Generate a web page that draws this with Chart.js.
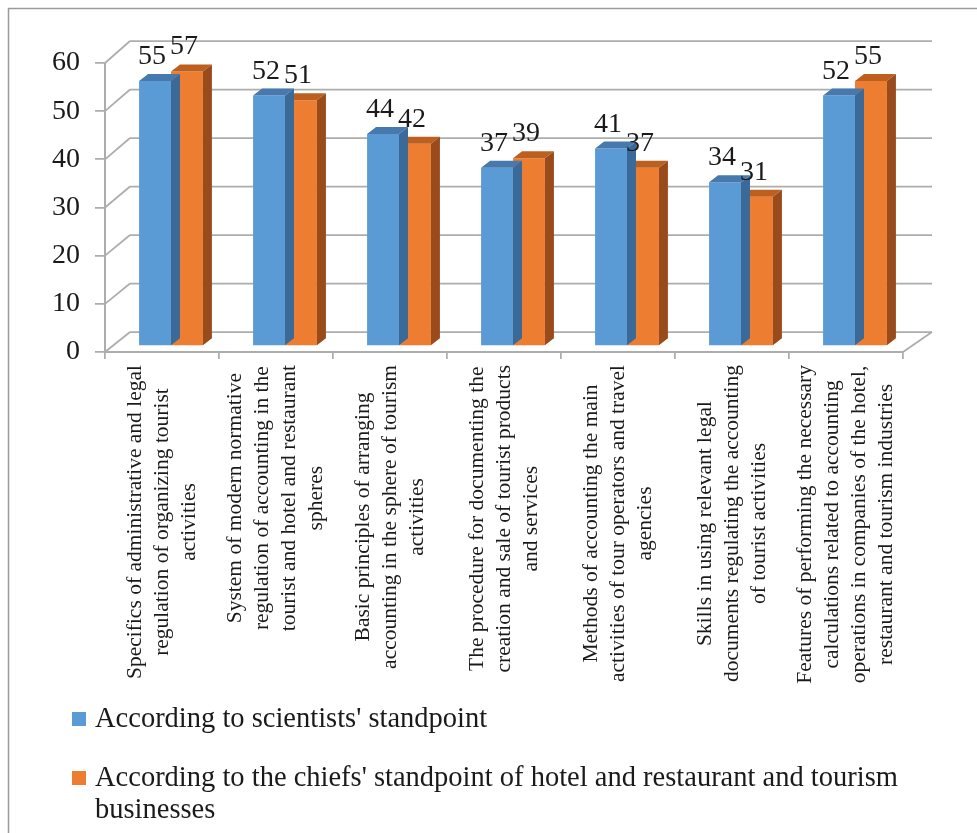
<!DOCTYPE html>
<html><head><meta charset="utf-8">
<script src="https://cdn.jsdelivr.net/npm/chart.js@4.4.1/dist/chart.umd.min.js"></script>
<style>html,body{margin:0;padding:0;background:#fff;}#wrap{width:977px;height:833px;position:relative;}</style>
</head><body><div id="wrap"><canvas id="c" width="977" height="833"></canvas></div>
<script>
const categories = [
  ["Specifics of administrative and legal", "regulation of organizing tourist", "activities"],
  ["System of modern normative", "regulation of accounting in the", "tourist and hotel and restaurant", "spheres"],
  ["Basic principles of arranging", "accounting in the sphere of tourism", "activities"],
  ["The procedure for documenting the", "creation and sale of tourist products", "and services"],
  ["Methods of accounting the main", "activities of tour operators and travel", "agencies"],
  ["Skills in using relevant legal", "documents regulating the accounting", "of tourist activities"],
  ["Features of performing the necessary", "calculations related to accounting", "operations in companies of the hotel,", "restaurant and tourism industries"]
];
const seriesNames = [
  "According to scientists' standpoint",
  "According to the chiefs' standpoint of hotel and restaurant and tourism businesses"
];
const scientists = [55, 52, 44, 37, 41, 34, 52];
const chiefs = [57, 51, 42, 39, 37, 31, 55];
const yTicks = [0, 10, 20, 30, 40, 50, 60];

const FONT = "'Liberation Serif','Times New Roman',serif";
const FRONT = ['#5B9BD5', '#ED7D31'];
const TOP = ['#4679AD', '#BD601F'];
const SIDE = ['#3B6A98', '#9A4B1B'];
const GRID = '#adadad';
const SHIFT = {x: 9, y: -6};
const BD = {dx: 9, dy: -7};

const threeD = {
  id: 'threeD',
  beforeDatasetsDraw(chart) {
    const ctx = chart.ctx, y = chart.scales.y, a = chart.chartArea;
    const bl = a.left + 25, br = a.right + 29;
    ctx.save();
    ctx.strokeStyle = GRID; ctx.lineWidth = 1.75;
    yTicks.forEach(v => {
      const fy = y.getPixelForValue(v);
      const by = fy - (20 + 2 * v / 60);
      ctx.beginPath(); ctx.moveTo(bl, by); ctx.lineTo(br, by); ctx.stroke();
      ctx.beginPath(); ctx.moveTo(a.left, fy); ctx.lineTo(bl, by); ctx.stroke();
    });
    const f0 = y.getPixelForValue(0);
    ctx.beginPath(); ctx.moveTo(a.right, f0); ctx.lineTo(br, f0 - 20); ctx.stroke();
    ctx.restore();
    ctx.save();
    ctx.translate(SHIFT.x, SHIFT.y);
  },
  afterDatasetDraw(chart, args) {
    const ctx = chart.ctx, i = args.index;
    args.meta.data.forEach(el => {
      const p = el.getProps(['x', 'y', 'base', 'width'], true);
      const l = p.x - p.width / 2, r = p.x + p.width / 2, t = p.y, b = p.base;
      ctx.fillStyle = TOP[i];
      ctx.beginPath(); ctx.moveTo(l, t); ctx.lineTo(r, t); ctx.lineTo(r + BD.dx, t + BD.dy); ctx.lineTo(l + BD.dx, t + BD.dy); ctx.closePath(); ctx.fill();
      ctx.fillStyle = SIDE[i];
      ctx.beginPath(); ctx.moveTo(r, t); ctx.lineTo(r + BD.dx, t + BD.dy); ctx.lineTo(r + BD.dx, b + BD.dy); ctx.lineTo(r, b); ctx.closePath(); ctx.fill();
    });
  },
  afterDatasetsDraw(chart) {
    const ctx = chart.ctx;
    ctx.restore();
    ctx.save();
    ctx.fillStyle = '#1a1a1a';
    ctx.font = '28px ' + FONT;
    ctx.textAlign = 'center'; ctx.textBaseline = 'alphabetic';
    chart.data.datasets.forEach((ds, di) => {
      chart.getDatasetMeta(di).data.forEach((el, k) => {
        const p = el.getProps(['x', 'y'], true);
        ctx.fillText(String(ds.data[k]), p.x + SHIFT.x - 3, p.y + SHIFT.y - 17);
      });
    });
    ctx.restore();
  },
  afterDraw(chart) {
    const ctx = chart.ctx, x = chart.scales.x;
    ctx.save();
    ctx.fillStyle = '#1a1a1a';
    ctx.font = '21.5px ' + FONT;
    ctx.textAlign = 'center'; ctx.textBaseline = 'middle';
    const lh = 27, topY = 365;
    categories.forEach((lines, i) => {
      const cx = x.getPixelForValue(i);
      const maxW = Math.max(...lines.map(s => ctx.measureText(s).width));
      const cy = topY + maxW / 2;
      lines.forEach((s, k) => {
        const lx = cx + (k - (lines.length - 1) / 2) * lh;
        ctx.save(); ctx.translate(lx, cy); ctx.rotate(-Math.PI / 2);
        ctx.fillText(s, 0, 0); ctx.restore();
      });
    });
    ctx.font = '28.5px ' + FONT;
    ctx.textAlign = 'left'; ctx.textBaseline = 'alphabetic';
    const tx = 95, maxW = 977 - tx - 12;
    const starts = [727, 786];
    chart.data.datasets.forEach((ds, di) => {
      ctx.fillStyle = FRONT[di];
      ctx.fillRect(72, starts[di] - 15, 14, 14);
      ctx.fillStyle = '#1a1a1a';
      const words = ds.label.split(' ');
      let line = '', yy = starts[di];
      words.forEach(w => {
        const test = line ? line + ' ' + w : w;
        if (ctx.measureText(test).width > maxW && line) {
          ctx.fillText(line, tx, yy); yy += 32; line = w;
        } else line = test;
      });
      ctx.fillText(line, tx, yy);
    });
    ctx.strokeStyle = '#9a9a9a'; ctx.lineWidth = 1.5;
    ctx.beginPath(); ctx.moveTo(8.5, 833); ctx.lineTo(8.5, 8.5); ctx.lineTo(977, 8.5); ctx.stroke();
    ctx.restore();
  }
};

new Chart(document.getElementById('c'), {
  type: 'bar',
  data: {
    labels: categories.map(l => l.join(' ')),
    datasets: [
      {label: seriesNames[0], data: scientists, backgroundColor: FRONT[0], borderWidth: 0, clip: false},
      {label: seriesNames[1], data: chiefs, backgroundColor: FRONT[1], borderWidth: 0, clip: false}
    ]
  },
  options: {
    responsive: false,
    animation: false,
    devicePixelRatio: 1,
    layout: {padding: {left: 8, right: 74, top: 63, bottom: 0}},
    datasets: {bar: {categoryPercentage: 0.56, barPercentage: 1}},
    plugins: {legend: {display: false}, tooltip: {enabled: false}},
    scales: {
      x: {
        ticks: {display: false},
        grid: {drawOnChartArea: false, drawTicks: true, tickLength: 7, offset: true, color: GRID, lineWidth: 1.75},
        border: {display: true, color: GRID, width: 2},
        afterFit(s) { s.height = 833 - 352; }
      },
      y: {
        min: 0, max: 60,
        afterBuildTicks(s) { s.ticks = yTicks.map(v => ({value: v})); },
        ticks: {padding: 15, color: '#1a1a1a', font: {family: FONT, size: 28}},
        grid: {drawOnChartArea: false, drawTicks: true, tickLength: 10, color: GRID, lineWidth: 1.75},
        border: {display: true, color: GRID, width: 2},
        afterFit(s) { s.width = 97; }
      }
    }
  },
  plugins: [threeD]
});
</script></body></html>
